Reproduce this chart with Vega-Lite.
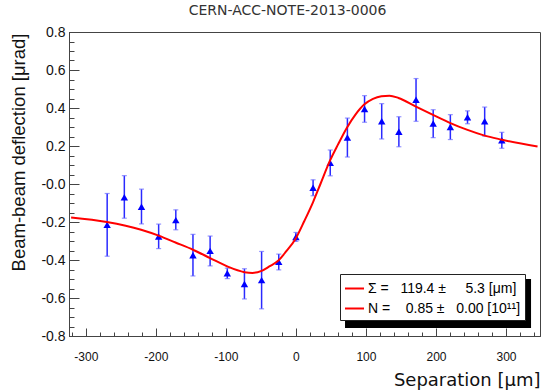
{
  "$schema": "https://vega.github.io/schema/vega-lite/v6.json",
  "width": 471,
  "height": 304,
  "autosize": {"type": "none"},
  "padding": {"left": 69, "top": 32, "right": 3, "bottom": 55},
  "background": "white",
  "title": {"text": "CERN-ACC-NOTE-2013-0006", "font": "DejaVu Sans", "fontSize": 14, "fontWeight": "normal", "color": "#333333", "anchor": "middle", "dx": -17, "dy": 8, "offset": 4, "baseline": "alphabetic"},
  "config": {
    "view": {"stroke": "#444444", "strokeWidth": 1},
    "axis": {"grid": false, "domainColor": "#444444", "tickColor": "#444444", "labelColor": "#111111", "titleColor": "#111111", "labelOverlap": false}
  },
  "resolve": {"axis": {"x": "independent", "y": "independent"}},
  "datasets": {
    "points": [
      {"x": -269.5, "y": -0.215, "lo": -0.38, "hi": -0.05},
      {"x": -245, "y": -0.07, "lo": -0.18, "hi": 0.044},
      {"x": -220.5, "y": -0.12, "lo": -0.21, "hi": -0.027},
      {"x": -196, "y": -0.276, "lo": -0.34, "hi": -0.211},
      {"x": -171.5, "y": -0.19, "lo": -0.241, "hi": -0.136},
      {"x": -147, "y": -0.375, "lo": -0.484, "hi": -0.265},
      {"x": -122.5, "y": -0.352, "lo": -0.431, "hi": -0.274},
      {"x": -98, "y": -0.47, "lo": -0.498, "hi": -0.443},
      {"x": -73.5, "y": -0.526, "lo": -0.605, "hi": -0.446},
      {"x": -49, "y": -0.506, "lo": -0.657, "hi": -0.355},
      {"x": -24.5, "y": -0.41, "lo": -0.452, "hi": -0.369},
      {"x": 0, "y": -0.279, "lo": -0.302, "hi": -0.255},
      {"x": 24.5, "y": -0.02, "lo": -0.062, "hi": 0.022},
      {"x": 49, "y": 0.111, "lo": 0.043, "hi": 0.179},
      {"x": 73.5, "y": 0.245, "lo": 0.142, "hi": 0.347},
      {"x": 98, "y": 0.395, "lo": 0.325, "hi": 0.465},
      {"x": 122.5, "y": 0.33, "lo": 0.237, "hi": 0.423},
      {"x": 147, "y": 0.275, "lo": 0.196, "hi": 0.354},
      {"x": 171.5, "y": 0.443, "lo": 0.33, "hi": 0.555},
      {"x": 196, "y": 0.318, "lo": 0.244, "hi": 0.391},
      {"x": 220.5, "y": 0.3, "lo": 0.234, "hi": 0.365},
      {"x": 245, "y": 0.351, "lo": 0.317, "hi": 0.385},
      {"x": 269.5, "y": 0.33, "lo": 0.252, "hi": 0.405},
      {"x": 294, "y": 0.23, "lo": 0.188, "hi": 0.272}
    ],
    "fit": [
      {"x": -321, "y": -0.176},
      {"x": -270, "y": -0.2},
      {"x": -221, "y": -0.241},
      {"x": -196, "y": -0.272},
      {"x": -172, "y": -0.308},
      {"x": -147, "y": -0.346},
      {"x": -122.5, "y": -0.39},
      {"x": -98, "y": -0.434},
      {"x": -73.5, "y": -0.464},
      {"x": -62, "y": -0.468},
      {"x": -49, "y": -0.457},
      {"x": -38, "y": -0.434},
      {"x": -25, "y": -0.403},
      {"x": -14, "y": -0.355},
      {"x": 0, "y": -0.285},
      {"x": 12, "y": -0.195},
      {"x": 24.5, "y": -0.095},
      {"x": 35, "y": 0.0},
      {"x": 48.3, "y": 0.12},
      {"x": 60, "y": 0.207},
      {"x": 72.6, "y": 0.295},
      {"x": 85, "y": 0.365},
      {"x": 97.4, "y": 0.418},
      {"x": 110, "y": 0.448},
      {"x": 122, "y": 0.462},
      {"x": 133.6, "y": 0.465},
      {"x": 146.4, "y": 0.453},
      {"x": 170.7, "y": 0.409},
      {"x": 195, "y": 0.365},
      {"x": 219.7, "y": 0.322},
      {"x": 244, "y": 0.286},
      {"x": 268.3, "y": 0.256},
      {"x": 293, "y": 0.234},
      {"x": 345, "y": 0.197}
    ]
  },
  "layer": [
    {
      "data": {"values": [{}]},
      "mark": {"type": "rect", "color": "black"},
      "encoding": {
        "x": {"datum": 70.1, "type": "quantitative", "scale": {"domain": [-324, 348.5], "nice": false, "zero": false}, "axis": null},
        "x2": {"datum": 335.7},
        "y": {"datum": -0.5, "type": "quantitative", "scale": {"domain": [-0.8, 0.8], "nice": false, "zero": false}, "axis": null},
        "y2": {"datum": -0.758}
      }
    },
    {
      "data": {"name": "points"},
      "mark": {"type": "rule", "color": "#2a2aff", "strokeWidth": 1.5},
      "encoding": {
        "x": {
          "field": "x", "type": "quantitative",
          "axis": {
            "orient": "bottom", "title": null, "labels": false,
            "values": [-320, -300, -280, -260, -240, -220, -200, -180, -160, -140, -120, -100, -80, -60, -40, -20, 0, 20, 40, 60, 80, 100, 120, 140, 160, 180, 200, 220, 240, 260, 280, 300, 320, 340],
            "tickSize": -4
          }
        },
        "y": {
          "field": "lo", "type": "quantitative",
          "axis": {
            "orient": "left", "title": null, "labels": false,
            "values": [-0.8, -0.75, -0.7, -0.65, -0.6, -0.55, -0.5, -0.45, -0.4, -0.35, -0.3, -0.25, -0.2, -0.15, -0.1, -0.05, 0, 0.05, 0.1, 0.15, 0.2, 0.25, 0.3, 0.35, 0.4, 0.45, 0.5, 0.55, 0.6, 0.65, 0.7, 0.75, 0.8],
            "tickSize": -5
          }
        },
        "y2": {"field": "hi"}
      }
    },
    {
      "data": {"name": "points"},
      "mark": {"type": "tick", "orient": "horizontal", "color": "#6a6aff", "size": 5, "thickness": 1.2},
      "encoding": {
        "x": {"field": "x", "type": "quantitative", "axis": null},
        "y": {"field": "lo", "type": "quantitative", "axis": null}
      }
    },
    {
      "data": {"name": "points"},
      "mark": {"type": "tick", "orient": "horizontal", "color": "#6a6aff", "size": 5, "thickness": 1.2},
      "encoding": {
        "x": {"field": "x", "type": "quantitative", "axis": null},
        "y": {"field": "hi", "type": "quantitative", "axis": null}
      }
    },
    {
      "data": {"name": "points"},
      "mark": {"type": "point", "shape": "triangle-up", "filled": true, "color": "#0000ff", "size": 55, "opacity": 1},
      "encoding": {
        "x": {"field": "x", "type": "quantitative", "axis": null},
        "y": {"field": "y", "type": "quantitative", "axis": null}
      }
    },
    {
      "data": {"name": "fit"},
      "mark": {"type": "line", "interpolate": "monotone", "strokeWidth": 2, "clip": true},
      "encoding": {
        "x": {
          "field": "x", "type": "quantitative", "title": "Separation  [μm]",
          "scale": {"domain": [-324, 348.5], "nice": false, "zero": false},
          "axis": {
            "orient": "bottom",
            "values": [-300, -200, -100, 0, 100, 200, 300],
            "labelExpr": "(datum.value < 0 ? '-' : '') + format(abs(datum.value), 'd')",
            "tickSize": -8,
            "labelFlush": false,
            "labelFont": "Liberation Sans", "labelFontSize": 12, "labelPadding": 23,
            "titleFont": "DejaVu Sans", "titleFontSize": 18, "titleFontWeight": "normal",
            "titleX": 471, "titleY": 49, "titleAlign": "right", "titleBaseline": "alphabetic", "titleAnchor": "end"
          }
        },
        "y": {
          "field": "y", "type": "quantitative", "title": "Beam-beam deflection [μrad]",
          "scale": {"domain": [-0.8, 0.8], "nice": false, "zero": false},
          "axis": {
            "orient": "left",
            "values": [-0.8, -0.6, -0.4, -0.2, 0, 0.2, 0.4, 0.6, 0.8],
            "labelExpr": "abs(datum.value) < 0.001 ? '-0.0' : (datum.value < 0 ? '-' : '') + format(abs(datum.value), '.1f')",
            "tickSize": -10,
            "labelFlush": false,
            "labelFont": "Liberation Sans", "labelFontSize": 14, "labelPadding": 14,
            "titleFont": "Liberation Sans", "titleFontSize": 18.5, "titleFontWeight": "normal",
            "titleAngle": -90, "titleX": -45, "titleY": 1, "titleAlign": "right", "titleBaseline": "alphabetic"
          }
        },
        "color": {
          "datum": "Σ =\u00a0\u00a0\u00a0119.4 ±\u00a0\u00a0\u00a0\u00a0\u00a05.3 [μm]",
          "type": "nominal",
          "scale": {"domain": ["Σ =\u00a0\u00a0\u00a0119.4 ±\u00a0\u00a0\u00a0\u00a0\u00a05.3 [μm]", "N =\u00a0\u00a0\u00a0\u00a00.85 ±\u00a0\u00a0\u00a00.00 [10¹¹]"], "range": ["#ff0000", "#ff0000"]},
          "legend": {
            "orient": "none", "legendX": 271, "legendY": 242, "title": null,
            "symbolType": "stroke", "symbolSize": 361, "symbolStrokeWidth": 2,
            "labelFont": "Liberation Sans", "labelFontSize": 14, "labelColor": "black", "labelLimit": 400, "labelOffset": 3,
            "strokeColor": "#222222", "fillColor": "white", "padding": 4, "rowPadding": 2
          }
        }
      }
    }
  ]
}
